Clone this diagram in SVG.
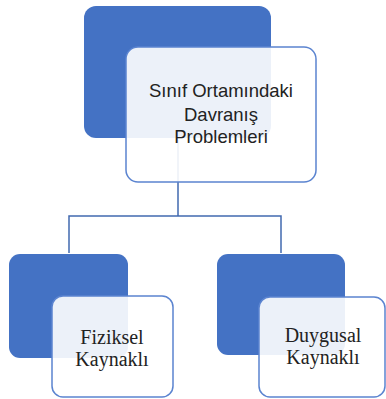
<svg xmlns="http://www.w3.org/2000/svg" width="386" height="399" viewBox="0 0 386 399">
<style>
.dark{fill:#4472C4;}
.light{fill:#ffffff;fill-opacity:0.9;stroke:#5B84D0;stroke-width:1.5;}
.conn{fill:none;stroke:#4169B0;stroke-width:1.5;}
.t1{font-family:"Liberation Sans",Arial,sans-serif;font-size:18.5px;fill:#222;text-anchor:middle;}
.t2{font-family:"Liberation Serif","Times New Roman",serif;font-size:20px;fill:#222;text-anchor:middle;}
</style>
<rect x="0" y="0" width="386" height="399" fill="#ffffff"/>
<g id="connectors">
<path class="conn" d="M178,140 V216 M69,253 V216 H281 V253"/>
</g>
<g id="node-root">
<rect class="dark" x="84" y="6" width="187" height="132" rx="12"/>
<rect class="light" x="126" y="47" width="190" height="135" rx="12"/>
<text class="t1" x="221" y="97">Sınıf Ortamındaki</text>
<text class="t1" x="221" y="121">Davranış</text>
<text class="t1" x="221" y="143">Problemleri</text>
</g>
<g id="node-fiziksel">
<rect class="dark" x="9" y="254" width="119" height="104" rx="11"/>
<rect class="light" x="52" y="296" width="121" height="101" rx="11"/>
<text class="t2" x="112" y="344">Fiziksel</text>
<text class="t2" x="112" y="366">Kaynaklı</text>
</g>
<g id="node-duygusal">
<rect class="dark" x="217" y="254" width="128" height="101" rx="11"/>
<rect class="light" x="259" y="297" width="126" height="100" rx="11"/>
<text class="t2" x="323" y="342">Duygusal</text>
<text class="t2" x="323" y="364">Kaynaklı</text>
</g>
</svg>
